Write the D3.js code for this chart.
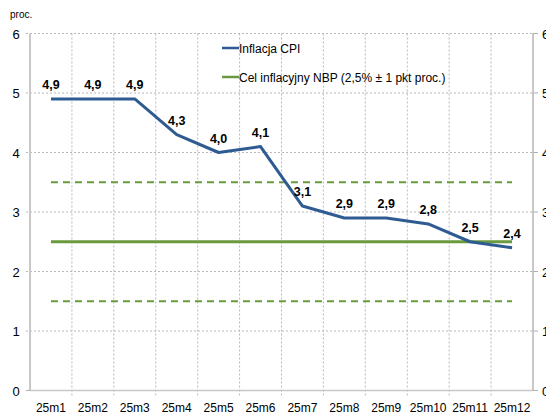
<!DOCTYPE html>
<html>
<head>
<meta charset="utf-8">
<script src="https://cdn.jsdelivr.net/npm/d3@7"></script>
<style>
  body { margin: 0; background: #fff; }
  svg { font-family: "Liberation Sans", Arial, sans-serif; }
</style>
</head>
<body>
<svg width="546" height="415"></svg>
<script>
const months = ['25m1', '25m2', '25m3', '25m4', '25m5', '25m6', '25m7', '25m8', '25m9', '25m10', '25m11', '25m12'];
const cpi = [4.9, 4.9, 4.9, 4.3, 4.0, 4.1, 3.1, 2.9, 2.9, 2.8, 2.5, 2.4];
const target = 2.5;
const band = [1.5, 3.5];
const yTicks = [0, 1, 2, 3, 4, 5, 6];

const svg = d3.select('svg');
const mLeft = 30, mRight = 533, mTop = 33.5, mBottom = 390.5;

const x = d3.scaleBand().domain(months).range([mLeft, mRight]);
const y = d3.scaleLinear().domain([0, 6]).range([mBottom, mTop]);
const cx = (m) => x(m) + x.bandwidth() / 2;

const blue = '#2f5b93';
const green = '#6a9a3d';
const grid = '#b8b8b8';

// horizontal grid
svg.append('g')
    .selectAll('line')
    .data(yTicks.filter((d) => d > 0))
    .enter().append('line')
    .attr('x1', mLeft - 4).attr('x2', mRight)
    .attr('y1', (d) => y(d)).attr('y2', (d) => y(d))
    .attr('stroke', grid)
    .attr('stroke-dasharray', '2,2');

// vertical grid at category boundaries
svg.append('g')
    .selectAll('line')
    .data(months.slice(1))
    .enter().append('line')
    .attr('x1', (d) => x(d)).attr('x2', (d) => x(d))
    .attr('y1', mTop).attr('y2', mBottom + 5)
    .attr('stroke', grid)
    .attr('stroke-dasharray', '2,2');

// axes lines
svg.append('line')
    .attr('x1', mLeft).attr('x2', mLeft).attr('y1', mTop).attr('y2', mBottom)
    .attr('stroke', '#c8c8c8').attr('stroke-width', 2);
svg.append('line')
    .attr('x1', mRight).attr('x2', mRight).attr('y1', mTop).attr('y2', mBottom)
    .attr('stroke', '#c8c8c8').attr('stroke-width', 2);
svg.append('line')
    .attr('x1', mLeft).attr('x2', mRight).attr('y1', mBottom).attr('y2', mBottom)
    .attr('stroke', '#c8c8c8').attr('stroke-width', 1.5);

// right ticks
svg.append('g')
    .selectAll('line')
    .data(yTicks)
    .enter().append('line')
    .attr('x1', mRight).attr('x2', mRight + 5)
    .attr('y1', (d) => y(d)).attr('y2', (d) => y(d))
    .attr('stroke', '#b0b0b0');
svg.append('line')
    .attr('x1', mLeft - 4).attr('x2', mLeft)
    .attr('y1', mBottom).attr('y2', mBottom)
    .attr('stroke', '#b0b0b0');

// y tick labels
svg.append('g')
    .selectAll('text')
    .data(yTicks)
    .enter().append('text')
    .attr('x', 16).attr('y', (d) => y(d) + 5)
    .attr('text-anchor', 'middle')
    .attr('font-size', 13)
    .text((d) => d);
svg.append('g')
    .selectAll('text')
    .data(yTicks)
    .enter().append('text')
    .attr('x', 542).attr('y', (d) => y(d) + 5)
    .attr('font-size', 13)
    .text((d) => d);

// x labels
svg.append('g')
    .selectAll('text')
    .data(months)
    .enter().append('text')
    .attr('x', cx).attr('y', 412)
    .attr('text-anchor', 'middle')
    .attr('font-size', 12)
    .text((d) => d);

svg.append('text')
    .attr('x', 10).attr('y', 18)
    .attr('font-size', 10)
    .text('proc.');

// target band
const first = cx(months[0]), last = cx(months[months.length - 1]);
band.forEach((b) => {
    svg.append('line')
        .attr('x1', first).attr('x2', last)
        .attr('y1', y(b)).attr('y2', y(b))
        .attr('stroke', green).attr('stroke-width', 2.2)
        .attr('stroke-dasharray', '7,5');
});
svg.append('line')
    .attr('x1', first).attr('x2', last)
    .attr('y1', y(target)).attr('y2', y(target))
    .attr('stroke', green).attr('stroke-width', 3);

// CPI line
const line = d3.line()
    .x((d, i) => cx(months[i]))
    .y((d) => y(d));
svg.append('path')
    .datum(cpi)
    .attr('d', line)
    .attr('fill', 'none')
    .attr('stroke', blue)
    .attr('stroke-width', 3)
    .attr('stroke-linejoin', 'round');

// data labels
svg.append('g')
    .selectAll('text')
    .data(cpi)
    .enter().append('text')
    .attr('x', (d, i) => cx(months[i]))
    .attr('y', (d) => y(d) - 10)
    .attr('text-anchor', 'middle')
    .attr('font-size', 12.5)
    .attr('font-weight', 'bold')
    .text((d) => d3.format('.1f')(d).replace('.', ','));

// legend
const legend = [
    {name: 'Inflacja CPI', color: blue, y: 48},
    {name: 'Cel inflacyjny NBP (2,5% ± 1 pkt proc.)', color: green, y: 77}
];
const lg = svg.append('g')
    .selectAll('g')
    .data(legend)
    .enter().append('g');
lg.append('line')
    .attr('x1', 222).attr('x2', 239)
    .attr('y1', (d) => d.y).attr('y2', (d) => d.y)
    .attr('stroke', (d) => d.color).attr('stroke-width', 2.5);
lg.append('text')
    .attr('x', 239).attr('y', (d) => d.y + 4.5)
    .attr('font-size', 12)
    .text((d) => d.name);
</script>
</body>
</html>
